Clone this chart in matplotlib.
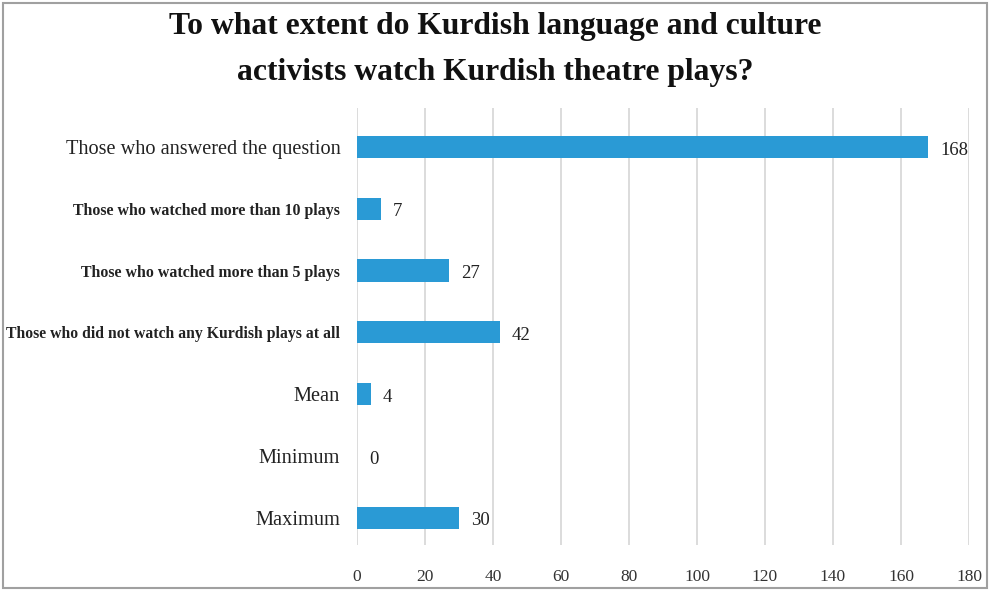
import matplotlib
matplotlib.use("Agg")
import matplotlib.pyplot as plt
from matplotlib.patches import Rectangle

# survey counts, top to bottom
categories = [
    "Those who answered the question",
    "Those who watched more than 10 plays",
    "Those who watched more than 5 plays",
    "Those who did not watch any Kurdish plays at all",
    "Mean",
    "Minimum",
    "Maximum",
]
values = [168, 7, 27, 42, 4, 0, 30]
label_sizes = [14.6, 11.4, 11.4, 11.3, 14.7, 14.7, 14.7]
label_weights = ["normal", "bold", "bold", "bold", "normal", "normal", "normal"]
xticks = [0, 20, 40, 60, 80, 100, 120, 140, 160, 180]

serif = "Liberation Serif"
bar_color = "#2A9AD5"

fig = plt.figure(figsize=(9.9, 5.91), dpi=100)
ax = fig.add_axes([0.3606, 0.0778, 0.6182, 0.7395])

ypos = list(range(len(categories) - 1, -1, -1))
ax.barh(ypos, values, height=0.36, color=bar_color, zorder=3)

for y, v in zip(ypos, values):
    ax.text(v + 3.5, y - 0.05, str(v), va="center", ha="left",
            fontsize=13.5, family=serif, color="#222222")

ax.set_xlim(0, 180)
ax.set_ylim(-0.44, 6.63)
ax.set_xticks(xticks)
ax.set_xticklabels([str(t) for t in xticks], family=serif, fontsize=12.5, color="#333333")
ax.set_yticks(ypos)
ax.set_yticklabels(categories, family=serif, color="#222222")
for lbl, s, w in zip(ax.get_yticklabels(), label_sizes, label_weights):
    lbl.set_fontsize(s)
    lbl.set_fontweight(w)

ax.tick_params(axis="x", length=0, pad=17)
ax.tick_params(axis="y", length=0, pad=12)
ax.grid(axis="x", color="#d9d9d9", linewidth=1.3, zorder=0)
for s in ax.spines.values():
    s.set_visible(False)

fig.text(0.5, 0.979, "To what extent do Kurdish language and culture\nactivists watch Kurdish theatre plays?",
         ha="center", va="top", fontsize=22.8, fontweight="bold", family=serif,
         linespacing=1.75, color="#111111")

# grey frame around the whole chart
fig.patches.append(Rectangle((0.003, 0.005), 0.994, 0.99, transform=fig.transFigure,
                             fill=False, edgecolor="#a0a0a0", linewidth=1.5))

fig.savefig("out.png", dpi=100)
